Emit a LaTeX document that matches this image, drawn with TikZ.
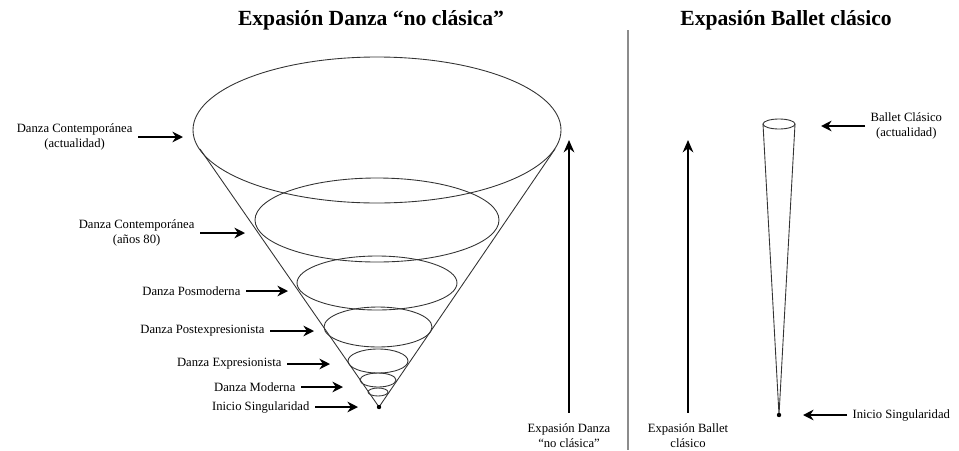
\documentclass[tikz,border=0pt]{standalone}
\usepackage{fontspec}
\setmainfont{Liberation Serif}
\usetikzlibrary{arrows.meta}

\tikzset{
    ring/.style={draw=black!80, line width=0.5pt},
    ptr/.style={-{Stealth[length=6pt,width=6pt]}, line width=1.6pt},
    tallptr/.style={-{Stealth[length=7pt,width=6pt]}, line width=1.4pt, shorten <=3pt},
    lbl/.style={font=\fontsize{7.2}{8.4}\selectfont, align=center, inner sep=3pt},
    ttl/.style={font=\fontsize{12.3}{14}\selectfont\bfseries}
}

\begin{document}
\begin{tikzpicture}[x=0.02cm, y=-0.02cm]
    \useasboundingbox (0,0) rectangle (959,450);

    % Titles
    \node[ttl] (tdanza) at (371,20) {Expasión Danza “no clásica”};
    \node[ttl] (tballet) at (786,20) {Expasión Ballet clásico};

    % Divider
    \draw[black!45, line width=0.6pt] (628,30) -- (628,450);

    % Cone coordinates
    \coordinate (A) at (379,407);
    \coordinate (L) at (200,149);
    \coordinate (R) at (555,149);

    % Draw cone
    \draw[ring] (L) -- (A) -- (R);
    \draw[ring] (377,130) ellipse [x radius=184, y radius=73];
    \draw[ring] (377,220) ellipse [x radius=122, y radius=42];
    \draw[ring] (377,283) ellipse [x radius=80, y radius=27];
    \draw[ring] (378,327) ellipse [x radius=54, y radius=20];
    \draw[ring] (378,361) ellipse [x radius=30, y radius=12];
    \draw[ring] (378,380) ellipse [x radius=18, y radius=7];
    \draw[ring] (378,392) ellipse [x radius=10, y radius=4];
    \fill (A) circle [radius=2.2];

    % Stages of the cone
    \coordinate (p1) at (183,137);
    \coordinate (p2) at (245,233);
    \coordinate (p3) at (288,291);
    \coordinate (p4) at (314,331);
    \coordinate (p5) at (330,364);
    \coordinate (p6) at (343,387);
    \coordinate (p7) at (358,407);
    \node[lbl, anchor=east] (d1) at (138,137) {Danza Contemporánea\\(actualidad)};
    \node[lbl, anchor=east] (d2) at (200,233) {Danza Contemporánea\\(años 80)};
    \node[lbl, anchor=east] (d3) at (246,291) {Danza Posmoderna};
    \node[lbl, anchor=east] (d4) at (270,331) {Danza Postexpresionista};
    \node[lbl, anchor=east] (d5) at (287,364) {Danza Expresionista};
    \node[lbl, anchor=east] (d6) at (301,387) {Danza Moderna};
    \node[lbl, anchor=east] (d7) at (315,407) {Inicio Singularidad};
    \draw[ptr] (d1) -- (p1);
    \draw[ptr] (d2) -- (p2);
    \draw[ptr] (d3) -- (p3);
    \draw[ptr] (d4) -- (p4);
    \draw[ptr] (d5) -- (p5);
    \draw[ptr] (d6) -- (p6);
    \draw[ptr] (d7) -- (p7);

    % Expansion arrows
    \coordinate (up1) at (569,140);
    \coordinate (up2) at (688,140);
    \node[lbl, anchor=north] (e1) at (569,418) {Expasión Danza\\“no clásica”};
    \node[lbl, anchor=north] (e2) at (688,418) {Expasión Ballet\\clásico};
    \draw[tallptr] (e1.north) -- (up1);
    \draw[tallptr] (e2.north) -- (up2);

    % Ballet cone
    \coordinate (B) at (779,415);
    \draw[ring] (763,124) -- (B) -- (795,124);
    \draw[ring] (779,124) ellipse [x radius=16, y radius=5];
    \fill (B) circle [radius=2.2];

    \coordinate (q1) at (821,126);
    \coordinate (q2) at (803,415);
    \node[lbl, anchor=west] (b1) at (865,126) {Ballet Clásico\\(actualidad)};
    \node[lbl, anchor=west] (b2) at (847,415) {Inicio Singularidad};
    \draw[ptr] (b1) -- (q1);
    \draw[ptr] (b2) -- (q2);
\end{tikzpicture}
\end{document}
